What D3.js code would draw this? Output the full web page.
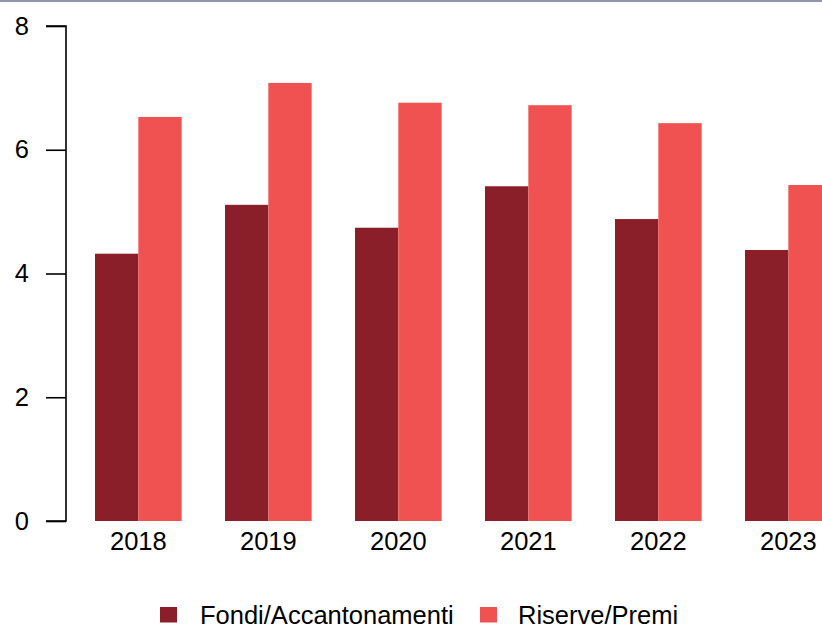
<!DOCTYPE html>
<html><head><meta charset="utf-8">
<script src="https://cdn.jsdelivr.net/npm/d3@7"></script>
<style>body{margin:0;background:#fff;}svg{display:block;font-family:"Liberation Sans",Arial,sans-serif;}</style>
</head><body>
<svg id="c" width="822" height="626"></svg>
<script>
const categories = ["2018","2019","2020","2021","2022","2023"];
const seriesNames = ["Fondi/Accantonamenti","Riserve/Premi"];
const fondi = [4.32, 5.11, 4.74, 5.41, 4.88, 4.38];
const riserve = [6.53, 7.08, 6.76, 6.72, 6.43, 5.43];
const yTicks = [0, 2, 4, 6, 8];
const colors = ["#8a1f2a", "#f05252"];
const FS = 25.5;
const FONT = "'Liberation Sans',Arial,sans-serif";

const svg = d3.select("#c");
svg.append("rect").attr("x",0).attr("y",0).attr("width",822).attr("height",2).attr("fill","#8e95ad");

const y = d3.scaleLinear().domain([0, 8]).range([521, 26]);
const x = d3.scaleBand().domain(categories).range([73.33, 853.33]).paddingInner(1/3).paddingOuter(1/6);
const xs = d3.scaleBand().domain(seriesNames).range([0, x.bandwidth()]);

const data = categories.map((c, i) => ({cat: c, vals: [fondi[i], riserve[i]]}));
const g = svg.append("g");
data.forEach(d => {
  seriesNames.forEach((s, j) => {
    g.append("rect")
      .attr("x", x(d.cat) + xs(s))
      .attr("y", y(d.vals[j]))
      .attr("width", xs.bandwidth())
      .attr("height", y(0) - y(d.vals[j]))
      .attr("fill", colors[j]);
  });
});

// y axis
const ya = svg.append("g").attr("transform", "translate(66,0)")
  .call(d3.axisLeft(y).tickValues(yTicks).tickSize(20).tickPadding(17).tickFormat(d3.format("d")));
ya.attr("font-size", FS).attr("font-family", FONT);
ya.select(".domain").attr("d", `M-20,${y(8)}H0V${y(0)}H-20`).attr("stroke","#000").attr("stroke-width",1.6);
ya.selectAll(".tick line").attr("stroke","#000").attr("stroke-width",1.6);
ya.selectAll(".tick text").attr("fill","#000");

// x labels
const xa = svg.append("g").attr("transform", `translate(0,${y(0)})`)
  .call(d3.axisBottom(x).tickSize(0).tickPadding(11));
xa.attr("font-size", FS).attr("font-family", FONT);
xa.select(".domain").remove();
xa.selectAll(".tick text").attr("fill","#000");

// legend
const legendPos = [{sq: 160, tx: 200}, {sq: 480, tx: 518}];
seriesNames.forEach((s, j) => {
  svg.append("rect").attr("x", legendPos[j].sq).attr("y", 607).attr("width", 17).attr("height", 15.5).attr("fill", colors[j]);
  svg.append("text").attr("x", legendPos[j].tx).attr("y", 623.5)
    .attr("font-size", FS).attr("font-family", FONT).attr("fill","#000").text(s);
});
</script>
</body></html>
